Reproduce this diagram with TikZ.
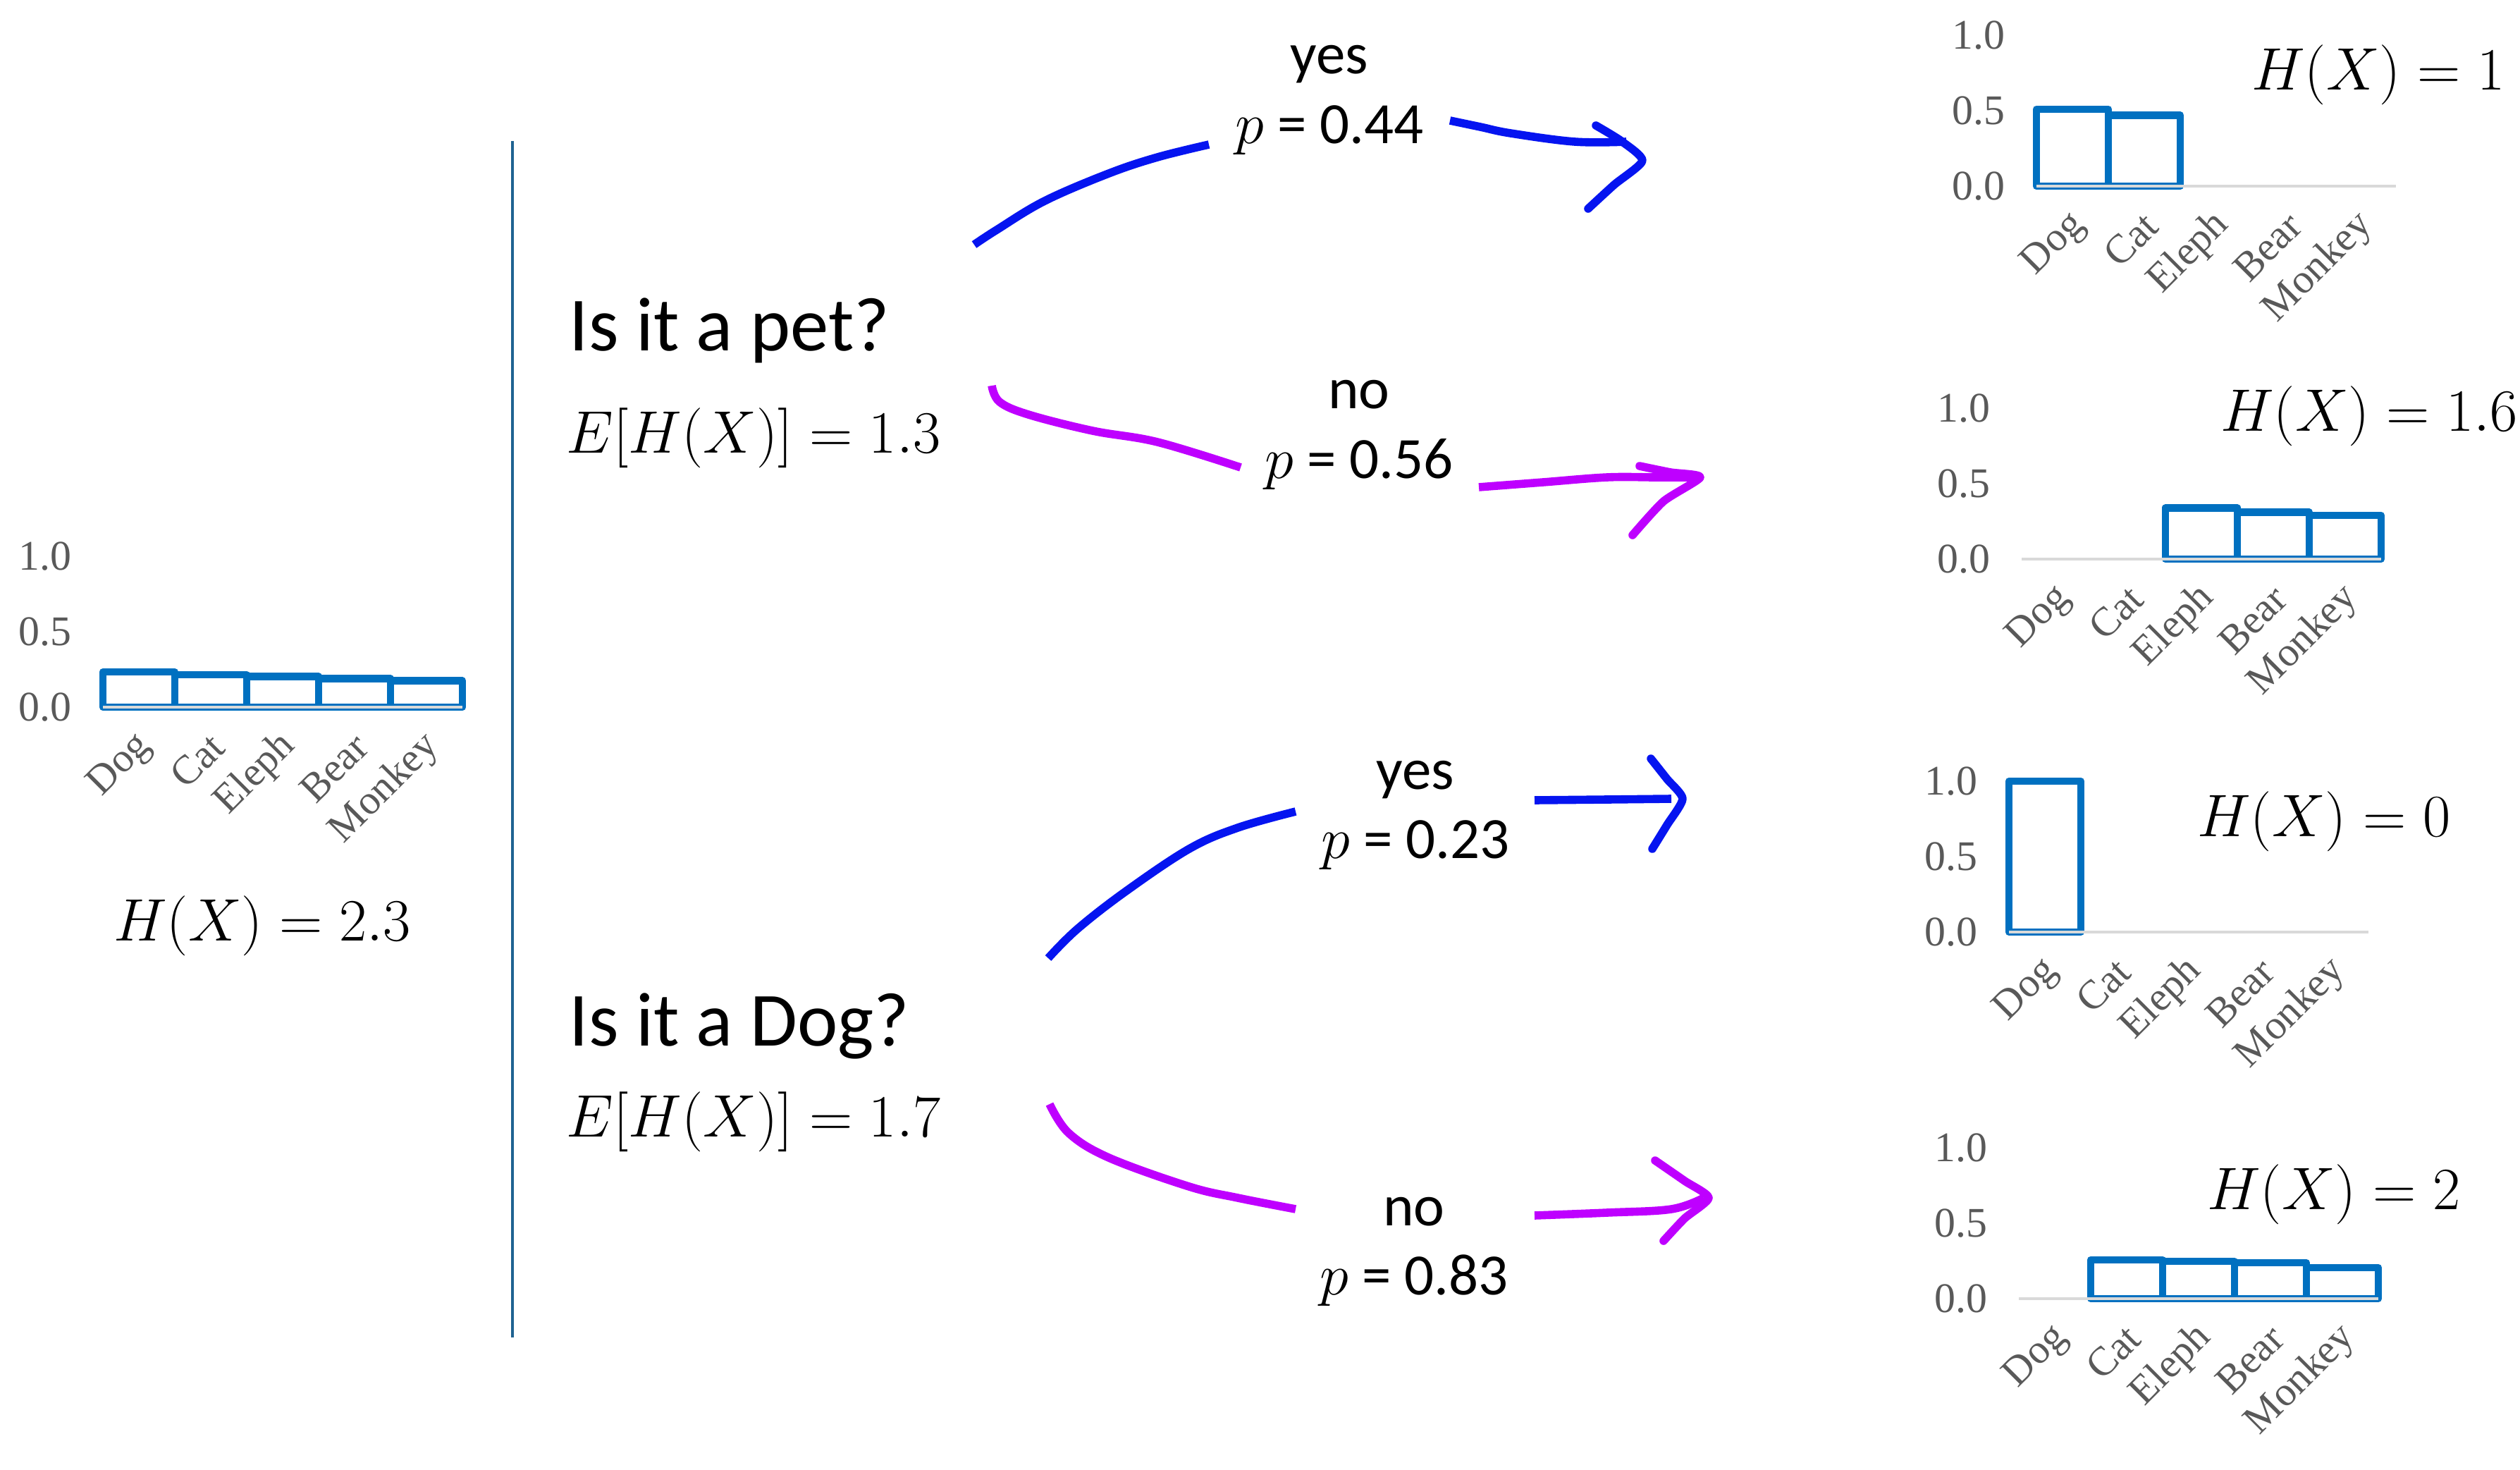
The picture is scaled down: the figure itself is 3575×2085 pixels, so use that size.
\RequirePackage{fix-cm}
\documentclass[tikz,border=0pt]{standalone}
\usepackage[no-math]{fontspec}
\newfontfamily\calfont{Carlito}
\newfontfamily\tnrfont{Liberation Serif}
\definecolor{barblue}{RGB}{0,112,192}
\definecolor{axisgray}{RGB}{217,217,217}
\definecolor{tickgray}{RGB}{89,89,89}
\definecolor{vlinecol}{RGB}{31,99,145}
\definecolor{penblue}{RGB}{5,20,240}
\definecolor{penpurple}{RGB}{190,0,255}
\tikzset{
  barbox/.style={draw=barblue, fill=white, line width=3pt, line join=round},
  axisline/.style={draw=axisgray, line width=1.1pt},
  ticklbl/.style={text=tickgray, inner sep=0pt, font=\tnrfont\fontsize{17pt}{19pt}\selectfont},
  catlbl/.style={text=tickgray, inner sep=0pt, rotate=45, anchor=east, font=\tnrfont\fontsize{16.5pt}{19pt}\selectfont},
  mathlbl/.style={inner sep=0pt, font=\fontsize{24.2pt}{29pt}\selectfont},
  question/.style={inner sep=0pt, anchor=west, font=\calfont\fontsize{30.9pt}{36pt}\selectfont},
  branchlbl/.style={inner sep=0pt, align=center, font=\calfont\fontsize{23.6pt}{27.9pt}\selectfont},
  penB/.style={draw=penblue, line width=3.3pt, line join=round, line cap=butt},
  penP/.style={draw=penpurple, line width=3.3pt, line join=round, line cap=butt},
  headB/.style={draw=penblue, line width=3.3pt, line join=round, line cap=round},
  headP/.style={draw=penpurple, line width=3.3pt, line join=round, line cap=round},
}
\newcommand{\distchart}[4]{%
  \foreach \i/\v in {#4} {
    \draw[barbox] ({#2+\i*102},#3) rectangle ({#2+(\i+1)*102},{#3-\v*214});
  }
  \draw[axisline] (#2,#3) -- ({#2+510},#3);
  \node[ticklbl] (#1-t00) at ({#2-82},#3) {0.0};
  \node[ticklbl] (#1-t05) at ({#2-82},{#3-107}) {0.5};
  \node[ticklbl] (#1-t10) at ({#2-82},{#3-214}) {1.0};
  \foreach \c [count=\k from 0] in {Dog,Cat,Eleph,Bear,Monkey} {
    \node[catlbl] (#1-c\k) at ({#2+\k*102+61},{#3+47}) {\c};
  }
}
\begin{document}
\begin{tikzpicture}[x=0.01cm,y=-0.01cm]
\useasboundingbox (0,0) rectangle (3575,2085);

% left chart
\distchart{L}{146}{1003}{0/0.233,1/0.215,2/0.204,3/0.19,4/0.175}
\node[mathlbl] (HL) at (372,1313) {$H(X)=2.3$};

% divider
\coordinate (vtop) at (727,200);
\coordinate (vbot) at (727,1897);
\draw[draw=vlinecol, line width=1.28pt] (vtop) -- (vbot);

% questions
\node[question] (q1) at (807,469) {Is it a pet?};
\node[mathlbl, anchor=west] (e1) at (803,621) {$E[H(X)]=1.3$};
\node[question] (q2) at (807,1455) {Is it a Dog?};
\node[mathlbl, anchor=west] (e2) at (803,1591) {$E[H(X)]=1.7$};

% branch labels
\node[branchlbl] (b1) at (1886,142) {yes\\$p$ = 0.44};
\node[branchlbl] (b2) at (1928,617) {no\\$p$ = 0.56};
\node[branchlbl] (b3) at (2008,1156) {yes\\$p$ = 0.23};
\node[branchlbl] (b4) at (2006,1775) {no\\$p$ = 0.83};

% pen strokes: top yes
\draw[penB] plot[smooth, tension=0.6] coordinates {(1382,347) (1414,326) (1482,285) (1573,246) (1642,223) (1715,205)};
\draw[penB] plot[smooth, tension=0.6] coordinates {(2057,171) (2100,180) (2143,189) (2234,201) (2307,201)};
\draw[headB] plot[smooth, tension=0.4] coordinates {(2264,178) (2300,200) (2330,228) (2290,262) (2253,296)};
% top no
\draw[penP] plot[smooth, tension=0.6] coordinates {(1407,547) (1418,570) (1459,588) (1550,611) (1642,627) (1760,663)};
\draw[penP] plot[smooth, tension=0.6] coordinates {(2098,691) (2189,684) (2280,677) (2348,677) (2412,677)};
\draw[headP] plot[smooth, tension=0.4] coordinates {(2326,661) (2370,670) (2412,677) (2360,711) (2316,759)};
% bottom yes
\draw[penB] plot[smooth, tension=0.6] coordinates {(1487,1359) (1528,1318) (1596,1265) (1687,1204) (1756,1174) (1838,1151)};
\draw[penB] plot[smooth, tension=0.6] coordinates {(2177,1135) (2280,1134) (2371,1133)};
\draw[headB] plot[smooth, tension=0.4] coordinates {(2342,1076) (2365,1105) (2387,1133) (2365,1170) (2344,1204)};
% bottom no
\draw[penP] plot[smooth, tension=0.6] coordinates {(1489,1566) (1516,1607) (1573,1642) (1687,1683) (1756,1699) (1838,1715)};
\draw[penP] plot[smooth, tension=0.6] coordinates {(2177,1724) (2280,1720) (2371,1715) (2417,1699)};
\draw[headP] plot[smooth, tension=0.4] coordinates {(2348,1646) (2390,1675) (2424,1699) (2390,1728) (2360,1760)};

% right charts
\distchart{A}{2889}{264}{0/0.51,1/0.47}
\node[mathlbl] (HA) at (3374,106) {$H(X)=1$};
\distchart{B}{2868}{793}{2/0.34,3/0.31,4/0.29}
\node[mathlbl] (HB) at (3361,590) {$H(X)=1.6$};
\distchart{C}{2850}{1322}{0/1.0}
\node[mathlbl] (HC) at (3297,1165) {$H(X)=0$};
\distchart{D}{2864}{1842}{1/0.258,2/0.247,3/0.238,4/0.206}
\node[mathlbl] (HD) at (3311,1694) {$H(X)=2$};
\end{tikzpicture}
\end{document}
